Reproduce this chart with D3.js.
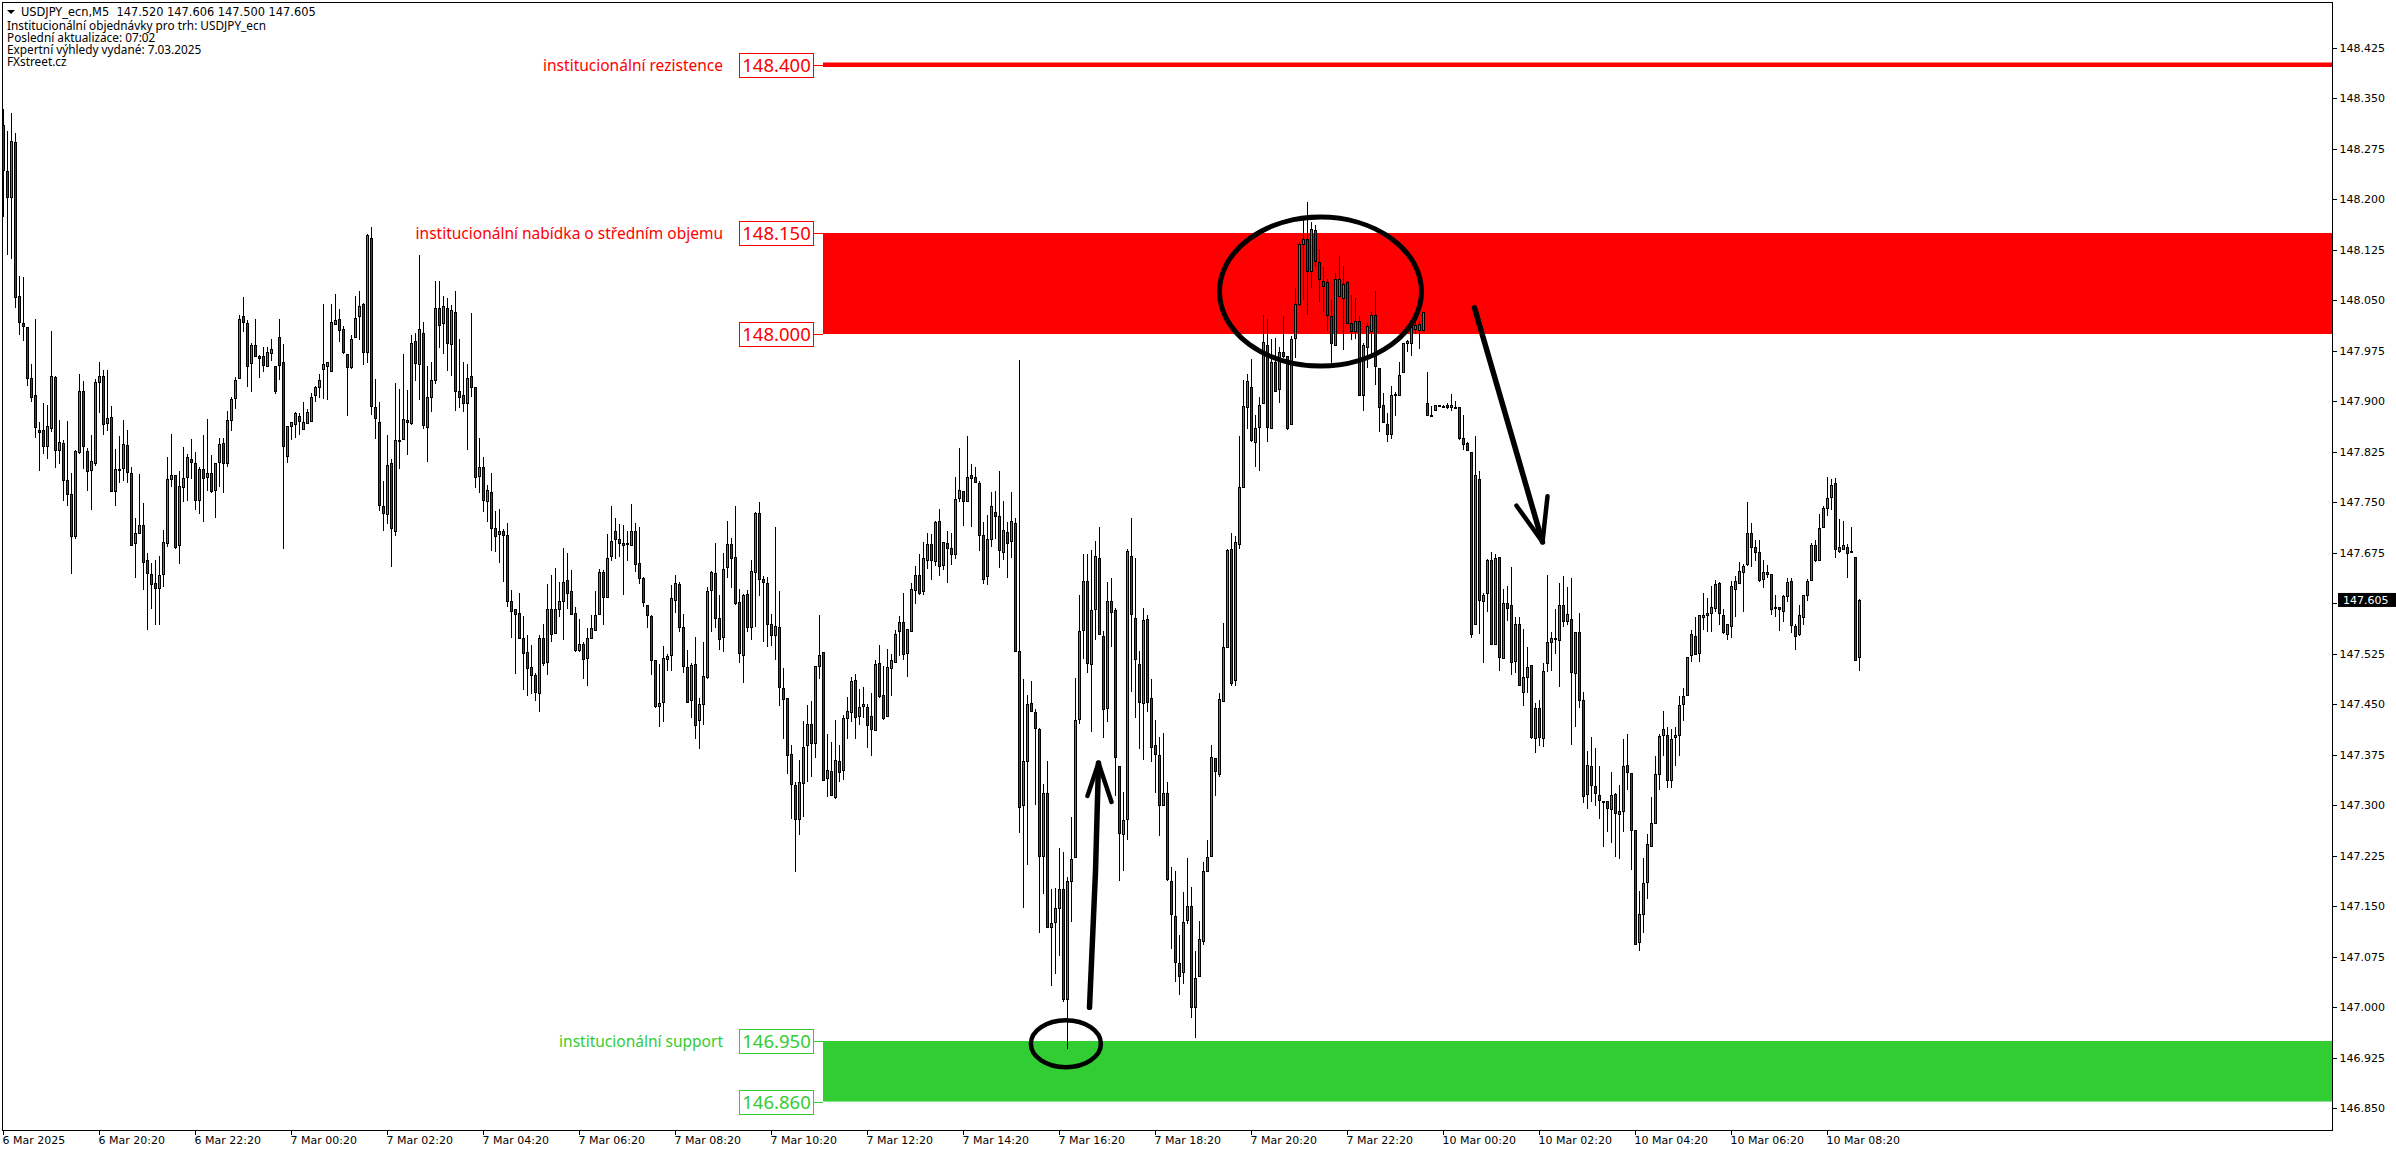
<!DOCTYPE html>
<html><head><meta charset="utf-8">
<script src="https://cdn.jsdelivr.net/npm/d3@7"></script>
<style>html,body{margin:0;padding:0;background:#fff;overflow:hidden}svg{display:block}</style>
</head><body><div id="chart"></div>
<script>
// Prices are stored in points (0.001) above the base price, candle by candle.
const basePrice = 147, pointSize = 0.001;
const opensPts = [
1310,1242,1204,1285,1057,1017,1010,934,909,858,
857,834,861,936,828,838,783,762,700,825,
915,826,798,809,928,937,868,876,767,800,
801,835,793,689,704,717,664,644,630,623,
643,690,785,790,686,773,787,815,809,753,
799,787,793,768,810,838,808,873,905,934,
1026,1017,957,983,967,968,953,972,952,995,
958,819,863,867,878,859,868,871,910,922,
948,953,945,1015,1023,1008,971,951,995,1027,
1044,973,1143,892,870,745,733,808,708,841,
844,873,868,990,956,1002,862,907,932,1038,
1017,1039,985,1032,915,909,898,937,922,789,
803,752,766,712,703,708,701,604,591,586,
549,528,506,494,467,549,513,592,556,592,
603,634,618,586,531,539,519,549,561,584,
646,610,671,707,696,690,688,687,708,660,
637,597,581,516,448,453,517,523,605,628,
565,505,456,510,426,451,490,620,645,578,
550,654,688,669,602,523,614,565,646,734,
636,630,569,553,565,474,460,376,330,280,
333,389,421,393,507,527,340,351,313,366,
352,430,439,486,432,448,446,432,412,511,
464,432,504,513,559,572,526,559,620,642,
618,664,688,663,722,657,689,682,673,756,
767,752,790,787,779,701,641,696,735,729,
676,706,692,720,529,300,366,452,439,414,
224,319,120,126,147,175,12,188,223,428,
560,633,510,591,667,552,444,604,590,359,
257,280,670,578,510,452,576,460,389,374,
300,319,188,136,66,52,130,150,1,46,
98,203,224,371,347,455,535,680,486,688,
773,891,921,840,862,897,983,860,958,918,
974,967,866,994,1044,1133,1141,1093,1154,1107,
1078,1077,1026,983,1056,1054,1077,1016,1004,1020,
909,980,1004,1028,949,894,867,851,909,909,
943,986,986,1008,1006,1006,897,880,887,893,
893,894,891,891,891,845,838,825,570,784,
604,615,665,540,669,519,601,597,515,570,
468,491,509,400,444,400,511,543,548,546,
598,574,576,497,557,457,317,359,329,316,
307,307,294,317,287,291,360,348,264,97,
139,186,240,273,347,405,405,337,401,405,
451,464,523,552,526,580,582,586,593,630,
583,555,567,622,630,647,658,704,684,676,
636,647,644,595,595,589,611,633,567,554,
580,613,635,687,665,713,741,758,779,678,
680,684,677,669,520];
const closesPts = [
1244,1203,1286,1055,1018,1012,934,907,862,855,
833,863,937,827,839,783,763,700,826,915,
833,796,812,928,937,867,875,767,800,798,
836,795,687,705,716,662,645,629,623,642,
691,784,790,684,774,786,818,810,754,799,
786,793,767,808,836,808,872,904,931,1023,
1018,953,983,968,965,954,973,977,916,954,
833,863,869,882,871,869,884,906,922,932,
955,958,1018,1021,1006,973,951,993,1024,1042,
973,1147,893,875,746,734,806,712,843,843,
874,870,986,957,1007,865,906,931,1038,1014,
1041,987,1035,916,907,898,934,922,788,802,
754,768,712,700,707,702,604,589,584,549,
526,504,494,468,549,512,591,555,592,604,
632,616,584,531,540,518,548,563,583,647,
609,668,693,696,690,687,689,707,659,637,
602,582,516,448,452,519,522,608,630,565,
507,454,508,420,450,492,618,646,578,547,
651,688,667,601,526,612,565,648,734,636,
631,569,553,566,475,458,375,331,280,334,
386,421,393,507,523,338,352,315,367,350,
429,440,484,431,446,450,420,413,510,462,
429,505,516,554,572,524,562,621,642,615,
667,688,664,721,655,691,682,673,755,768,
752,788,786,780,701,636,696,745,730,679,
709,690,722,529,298,366,451,440,415,224,
319,119,125,147,175,12,188,221,426,559,
633,512,590,670,554,443,604,587,372,259,
278,677,584,517,453,575,453,387,376,300,
319,190,138,67,47,126,150,1,44,101,
202,223,372,351,458,535,679,482,691,773,
893,930,842,860,894,988,862,958,916,974,
967,860,992,1044,1133,1141,1093,1156,1108,1081,
1072,1028,986,1081,1081,1075,1017,1005,1019,910,
983,1012,1028,952,892,869,852,909,911,939,
986,989,1010,1014,1015,1032,880,879,894,894,
893,891,895,892,845,836,827,555,790,605,
612,664,540,668,521,601,593,513,569,478,
490,506,402,445,401,500,543,548,547,598,
574,584,498,558,457,314,360,330,319,308,
307,296,316,289,291,359,350,264,94,139,
184,242,273,347,403,413,337,399,405,449,
463,521,554,525,582,582,586,595,628,585,
557,569,625,633,648,655,704,683,676,635,
647,644,592,594,592,611,631,568,552,582,
612,633,686,665,712,741,757,776,680,683,
686,675,678,516,605];
const highsPts = [
1334,1301,1328,1298,1086,1084,1010,956,1023,869,
898,894,1004,938,872,842,871,794,828,941,
930,830,850,933,958,947,947,893,829,848,
872,857,802,726,792,749,674,660,664,670,
709,817,851,790,797,832,822,844,825,803,
850,874,820,808,845,846,886,906,936,1028,
1055,1021,987,1022,969,981,981,993,952,1023,
985,863,869,884,883,899,888,912,923,941,
1045,958,1044,1059,1037,1012,971,999,1056,1064,
1046,1148,1159,933,899,781,850,814,927,919,
970,917,998,1001,1118,1018,952,958,1079,1079,
1056,1054,1043,1064,992,958,956,1031,922,845,
818,776,793,737,740,710,720,620,591,615,
581,553,538,497,553,569,628,642,652,632,
682,674,650,595,577,542,564,583,618,651,
649,703,744,727,718,716,707,748,719,713,
639,597,582,516,510,536,525,627,642,631,
584,530,511,550,460,543,624,648,689,612,
674,722,697,744,621,614,620,664,736,750,
640,639,584,713,618,504,460,389,334,368,
425,449,455,507,583,527,406,394,426,389,
434,461,490,495,473,475,450,467,516,538,
507,532,525,561,581,615,562,630,655,673,
691,704,703,723,740,691,708,704,787,830,
767,848,807,803,782,721,731,765,767,796,
752,721,765,726,962,488,464,485,443,415,
332,366,176,177,237,231,193,283,489,612,
673,673,679,692,713,559,632,637,593,359,
320,680,726,668,529,593,582,488,427,402,
408,334,209,203,107,171,222,179,84,128,
216,248,389,371,467,571,681,704,700,848,
932,941,963,880,907,1028,1022,993,994,980,
1027,967,997,1069,1136,1170,1196,1167,1162,1126,
1099,1081,1051,1090,1116,1101,1079,1058,1053,1026,
986,1016,1033,1064,949,912,882,923,914,958,
987,991,1018,1023,1019,1032,943,893,894,894,
894,897,911,901,891,880,839,825,848,797,
615,666,676,673,669,621,625,654,579,580,
562,535,509,452,456,512,642,558,591,630,
640,624,638,558,586,469,380,401,385,358,
307,307,350,319,330,398,406,348,264,172,
222,258,313,373,406,440,417,414,416,463,
474,521,561,579,583,615,608,625,635,632,
591,570,633,640,662,658,751,719,694,694,
665,657,644,612,595,613,638,637,570,597,
612,636,689,694,732,744,787,785,786,725,
722,688,713,669,606];
const lowsPts = [
1174,1118,1111,1039,999,989,923,899,845,796,
822,815,855,801,807,752,745,643,696,822,
800,767,738,804,882,850,856,767,744,779,
782,778,686,637,704,620,560,592,568,568,
624,684,773,680,659,750,752,785,739,732,
721,767,764,726,773,764,803,856,888,934,
1003,922,914,968,935,943,951,960,911,931,
681,809,843,845,850,859,868,871,899,905,
903,902,945,1013,988,970,878,948,995,991,
954,957,879,844,737,707,718,654,700,799,
842,820,865,930,902,859,810,884,926,979,
970,945,938,885,890,884,827,907,771,764,
735,721,677,676,660,632,595,549,495,547,
472,463,466,455,439,507,494,543,555,580,
546,592,584,528,528,488,477,548,559,583,
568,608,663,666,669,613,663,685,647,629,
595,563,493,445,416,423,499,500,586,558,
497,454,429,398,384,420,488,557,564,531,
528,637,623,597,512,482,557,546,565,611,
543,535,536,516,448,399,346,280,201,256,
283,334,342,371,488,337,312,315,309,335,
337,399,423,399,420,429,385,373,411,460,
426,432,463,512,522,516,491,559,599,612,
612,651,635,655,641,650,630,657,666,750,
715,752,714,780,677,629,627,684,695,653,
664,637,668,529,259,147,211,440,301,110,
168,119,31,49,76,8,-62,126,223,421,
518,497,409,546,554,400,423,535,314,188,
203,248,469,429,383,368,438,365,319,254,
300,188,86,38,18,35,123,-16,-46,46,
92,203,224,314,342,455,535,477,477,680,
773,859,839,802,797,897,839,860,914,898,
964,857,866,965,1041,1051,1028,1069,1100,1048,
1032,1004,957,983,1056,976,1017,991,993,910,
885,950,971,924,854,869,839,844,878,909,
942,974,968,1000,978,1006,879,879,887,893,
892,889,885,890,842,827,826,549,570,554,
511,587,538,538,500,519,573,494,496,478,
448,467,398,378,388,386,498,500,525,476,
565,568,390,417,444,304,294,305,299,280,
238,260,244,223,220,261,322,204,94,84,
111,161,240,273,323,373,325,325,358,373,
425,464,513,525,513,560,557,557,587,568,
555,546,549,580,630,587,656,654,663,632,
623,637,582,580,559,572,602,556,531,552,
568,603,635,661,663,712,729,739,667,675,
679,638,675,514,500];

const timeTickIndex = d3.range(20).map(i => i * 24);
const timeTickLabels = ["6 Mar 2025","6 Mar 20:20","6 Mar 22:20","7 Mar 00:20","7 Mar 02:20","7 Mar 04:20","7 Mar 06:20","7 Mar 08:20","7 Mar 10:20","7 Mar 12:20","7 Mar 14:20","7 Mar 16:20","7 Mar 18:20","7 Mar 20:20","7 Mar 22:20","10 Mar 00:20","10 Mar 02:20","10 Mar 04:20","10 Mar 06:20","10 Mar 08:20"];
const priceTicks = d3.range(22).map(i => 146.85 + i * 0.075);
const lastPrice = 147.605;
const headerLines = ["Institucionální objednávky pro trh: USDJPY_ecn","Poslední aktualizace: 07:02","Expertní výhledy vydané: 7.03.2025","FXstreet.cz"];
const headerTitle = "USDJPY_ecn,M5  147.520 147.606 147.500 147.605";

// Institutional levels
const zoneLevels = [148.0, 148.15];
const supportLevels = [146.86, 146.95];
const resistanceLevel = 148.4;
const zoneStartIndex = 205;

// Hand-drawn annotations, in [candle index, price]
const arrowUpShaft = [[271.5,147.000],[273,147.202],[273.75,147.363]];
const arrowUpHead = [[271,147.314],[273.75,147.363],[277,147.305]];
const arrowDownShaft = [[367.75,148.039],[384.75,147.691]];
const arrowDownHead = [[378.25,147.745],[384.75,147.691],[386,147.759]];
const bigEllipse = {i:329.25, p:148.063, ri:25.25, rp:0.1106};
const smallEllipse = {i:265.6, p:146.946, ri:8.75, rp:0.0349};

const W = 2396, H = 1154, frame = {l:2.5, t:2.5, r:2332.5, b:1130.5};
const UP = "#2ca02c", DOWN = "#e00000", RED = "#ff0000", LIME = "#32cd32";
const FONT = "'DejaVu Sans', sans-serif", LABELFONT = "'Noto Sans', sans-serif";

const price = p => basePrice + p * pointSize;
const candles = opensPts.map((o,i) => ({i, o:price(o), c:price(closesPts[i]), h:price(highsPts[i]), l:price(lowsPts[i])}));

const x = d3.scaleLinear().domain([0,464]).range([3,1859]);
const y = d3.scaleLinear().domain([147,148]).range([334+673.3,334]);

const svg = d3.select("#chart").append("svg").attr("width",W).attr("height",H).attr("viewBox",`0 0 ${W} ${H}`);
svg.append("rect").attr("width",W).attr("height",H).attr("fill","#fff");

// zones
const zoneX = x(zoneStartIndex);
svg.append("rect").attr("x",zoneX).attr("width",frame.r-zoneX).attr("y",y(zoneLevels[1])).attr("height",y(zoneLevels[0])-y(zoneLevels[1])).attr("fill",RED);
svg.append("rect").attr("x",zoneX).attr("width",frame.r-zoneX).attr("y",y(supportLevels[1])).attr("height",y(supportLevels[0])-y(supportLevels[1])).attr("fill",LIME);
svg.append("line").attr("x1",zoneX).attr("x2",frame.r).attr("y1",y(resistanceLevel)).attr("y2",y(resistanceLevel)).attr("stroke",RED).attr("stroke-width",4.5);

// candles
const cg = svg.append("g").attr("shape-rendering","crispEdges");
const candle = cg.selectAll("g").data(candles).join("g");
candle.append("rect").attr("x",d=>x(d.i)).attr("width",1)
  .attr("y",d=>Math.round(y(d.h))).attr("height",d=>Math.max(1,Math.round(y(d.l))-Math.round(y(d.h)))).attr("fill","#000");
candle.append("rect").attr("x",d=>x(d.i)-0.5).attr("width",2)
  .attr("y",d=>Math.round(y(Math.max(d.o,d.c)))+0.5)
  .attr("height",d=>Math.max(1,Math.round(y(Math.min(d.o,d.c)))-Math.round(y(Math.max(d.o,d.c)))))
  .attr("fill",d=>d.c>=d.o?UP:DOWN).attr("stroke","#000").attr("stroke-width",1);

// level tags
const tags = [
 {v:resistanceLevel,c:RED,t:"148.400",label:"institucionální rezistence"},
 {v:zoneLevels[1],c:RED,t:"148.150",label:"institucionální nabídka o středním objemu"},
 {v:zoneLevels[0],c:RED,t:"148.000"},
 {v:supportLevels[1],c:LIME,t:"146.950",label:"institucionální support"},
 {v:supportLevels[0],c:LIME,t:"146.860"}];
const tg = svg.append("g");
tags.forEach(d=>{
  const yy = Math.round(y(d.v))+0.5;
  tg.append("line").attr("x1",813.5).attr("x2",zoneX).attr("y1",yy).attr("y2",yy).attr("stroke",d.c).attr("shape-rendering","crispEdges");
  tg.append("rect").attr("x",739.5).attr("y",yy-12).attr("width",74).attr("height",24).attr("fill","#fff").attr("stroke",d.c).attr("shape-rendering","crispEdges");
  tg.append("text").attr("x",776.5).attr("y",yy).attr("dy","0.36em").attr("text-anchor","middle").attr("fill",d.c)
    .style("font",`18.5px ${LABELFONT}`).text(d.t);
  if(d.label) tg.append("text").attr("x",723).attr("y",yy).attr("dy","0.34em").attr("text-anchor","end").attr("fill",d.c)
    .style("font",`15.5px ${LABELFONT}`).text(d.label);
});

// annotations
const line = d3.line().x(d=>x(d[0])+0.5).y(d=>y(d[1])).curve(d3.curveLinear);
const ag = svg.append("g").attr("fill","none").attr("stroke","#000").attr("stroke-linecap","round").attr("stroke-linejoin","round");
[arrowUpShaft,arrowUpHead,arrowDownShaft,arrowDownHead].forEach((pts,k)=>{
  ag.append("path").attr("d",line(pts)).attr("stroke-width",k%2?4.5:5.5);
});
[[bigEllipse,5],[smallEllipse,4.5]].forEach(([e,sw])=>{
  ag.append("ellipse").attr("cx",x(e.i)+0.5).attr("cy",y(e.p))
    .attr("rx",x(e.ri)-x(0)).attr("ry",y(147)-y(147+e.rp)).attr("stroke-width",sw);
});

// frame + axes
const fg = svg.append("g").attr("shape-rendering","crispEdges");
fg.append("rect").attr("x",frame.l).attr("y",frame.t).attr("width",frame.r-frame.l).attr("height",frame.b-frame.t).attr("fill","none").attr("stroke","#000");

const yAxis = d3.axisRight(y).tickValues(priceTicks).tickFormat(d3.format(".3f")).tickSize(4).tickPadding(3);
const ya = svg.append("g").attr("transform",`translate(${frame.r},0)`).call(yAxis);
ya.select(".domain").remove();
ya.selectAll("line").attr("shape-rendering","crispEdges");
ya.selectAll("text").style("font",`11px ${FONT}`).attr("fill","#000");

const xAxis = d3.axisBottom(x).tickValues(timeTickIndex).tickFormat((d,i)=>timeTickLabels[i]).tickSize(4).tickPadding(2);
const xa = svg.append("g").attr("transform",`translate(0,${frame.b})`).call(xAxis);
xa.select(".domain").remove();
xa.selectAll("line").attr("shape-rendering","crispEdges");
xa.selectAll("text").attr("text-anchor","start").attr("dx",-1).style("font",`11px ${FONT}`).attr("fill","#000");

// last price tag
svg.append("rect").attr("x",2338).attr("y",y(lastPrice)-7).attr("width",58).attr("height",14).attr("fill","#000");
svg.append("text").attr("x",2343).attr("y",y(lastPrice)).attr("dy","0.36em").attr("fill","#fff").style("font",`11px ${FONT}`).text(d3.format(".3f")(lastPrice));

// header
svg.append("path").attr("d","M7,10H15L11,14Z").attr("fill","#000");
svg.append("text").attr("x",21).attr("y",12).attr("dy","0.36em").style("font",`11.4px ${FONT}`).style("white-space","pre").text(headerTitle);
headerLines.forEach((t,i)=>{
  svg.append("text").attr("x",7).attr("y",26+i*11.8).attr("dy","0.36em").style("font",`11.8px ${LABELFONT}`).text(t);
});
</script></body></html>
